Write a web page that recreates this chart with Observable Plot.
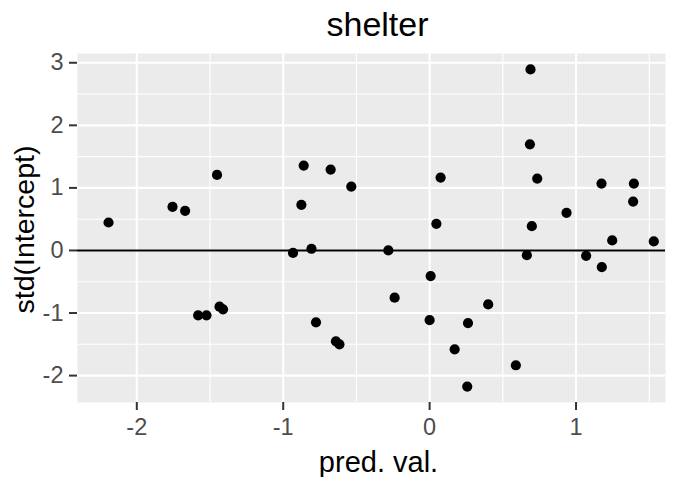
<!DOCTYPE html>
<html>
<head>
<meta charset="utf-8">
<script src="https://cdn.jsdelivr.net/npm/d3@7"></script>
<script src="https://cdn.jsdelivr.net/npm/@observablehq/plot@0.6"></script>
<style>
  html, body { margin: 0; padding: 0; background: #ffffff; }
  #chart svg { display: block; }
</style>
</head>
<body>
<div id="chart"></div>
<script>
// Residual diagnostic: standardized intercept vs predicted value
const predVal = [
  -2.193, -1.756, -1.670, -1.452, -0.860, -0.676, -0.876, -0.933, -0.807, -0.535,
  -0.282, 0.075, 0.046, 0.689, 0.685, 0.735, 0.698, 0.664, 0.935, 1.174,
  1.395, 1.390, 1.247, 1.531, 1.069, 1.176, -1.581, -1.524, -1.435, -1.411,
  -0.776, -0.640, -0.616, 0.007, -0.239, 0.000, 0.262, 0.400, 0.171, 0.589,
  0.257
];
const stdIntercept = [
  0.447, 0.697, 0.633, 1.208, 1.356, 1.292, 0.729, -0.037, 0.027, 1.021,
  0.000, 1.165, 0.426, 2.893, 1.696, 1.149, 0.388, -0.075, 0.601, 1.069,
  1.069, 0.782, 0.160, 0.144, -0.085, -0.266, -1.037, -1.037, -0.899, -0.941,
  -1.149, -1.452, -1.500, -0.410, -0.755, -1.112, -1.160, -0.862, -1.580, -1.835,
  -2.175
];

const titleText = "shelter";
const xTitle = "pred. val.";
const yTitle = "std(Intercept)";

const xTicks = [-2, -1, 0, 1];
const yTicks = [-2, -1, 0, 1, 2, 3];
const xMinor = [-1.5, -0.5, 0.5, 1.5];
const yMinor = [-1.5, -0.5, 0.5, 1.5, 2.5];

const points = predVal.map((x, i) => ({x, y: stdIntercept[i]}));

const font = "'Liberation Sans', Arial, Helvetica, sans-serif";
const fmt = d => d < 0 ? "-" + Math.abs(d) : String(d);

const chart = Plot.plot({
  width: 677,
  height: 477,
  marginLeft: 77,
  marginRight: 12,
  marginTop: 53,
  marginBottom: 75,
  style: {fontFamily: font, background: "#ffffff", overflow: "visible"},
  x: {domain: [-2.405, 1.611]},
  y: {domain: [-2.43, 3.148]},
  marks: [
    Plot.frame({fill: "#EBEBEB", stroke: null}),
    Plot.gridX(xMinor, {stroke: "#ffffff", strokeOpacity: 1, strokeWidth: 1.1}),
    Plot.gridY(yMinor, {stroke: "#ffffff", strokeOpacity: 1, strokeWidth: 1.1}),
    Plot.gridX(xTicks, {stroke: "#ffffff", strokeOpacity: 1, strokeWidth: 2.1}),
    Plot.gridY(yTicks, {stroke: "#ffffff", strokeOpacity: 1, strokeWidth: 2.1}),
    Plot.axisX(xTicks, {
      tickSize: 8, tickPadding: 8, fontSize: 23.5, color: "#4D4D4D",
      stroke: "#333333", strokeWidth: 2, label: null, tickFormat: fmt
    }),
    Plot.axisY(yTicks, {
      tickSize: 8, tickPadding: 6, fontSize: 23.5, color: "#4D4D4D",
      stroke: "#333333", strokeWidth: 2, label: null, tickFormat: fmt
    }),
    Plot.ruleY([0], {stroke: "#000000", strokeWidth: 2}),
    Plot.dot(points, {x: "x", y: "y", r: 5.1, fill: "#000000", stroke: null}),
    Plot.text([titleText], {
      frameAnchor: "top", dx: 6, dy: -17.5, lineAnchor: "bottom", textAnchor: "middle",
      text: d => d, fontSize: 34, fill: "#000000"
    }),
    Plot.text([xTitle], {
      frameAnchor: "bottom", dx: 7, dy: 69.5, lineAnchor: "bottom", textAnchor: "middle",
      text: d => d, fontSize: 29, fill: "#000000"
    }),
    Plot.text([yTitle], {
      frameAnchor: "left", dx: -44, dy: 1.5, lineAnchor: "bottom", textAnchor: "middle",
      rotate: -90, text: d => d, fontSize: 28.5, fill: "#000000"
    })
  ]
});

document.getElementById("chart").appendChild(chart);
</script>
</body>
</html>
